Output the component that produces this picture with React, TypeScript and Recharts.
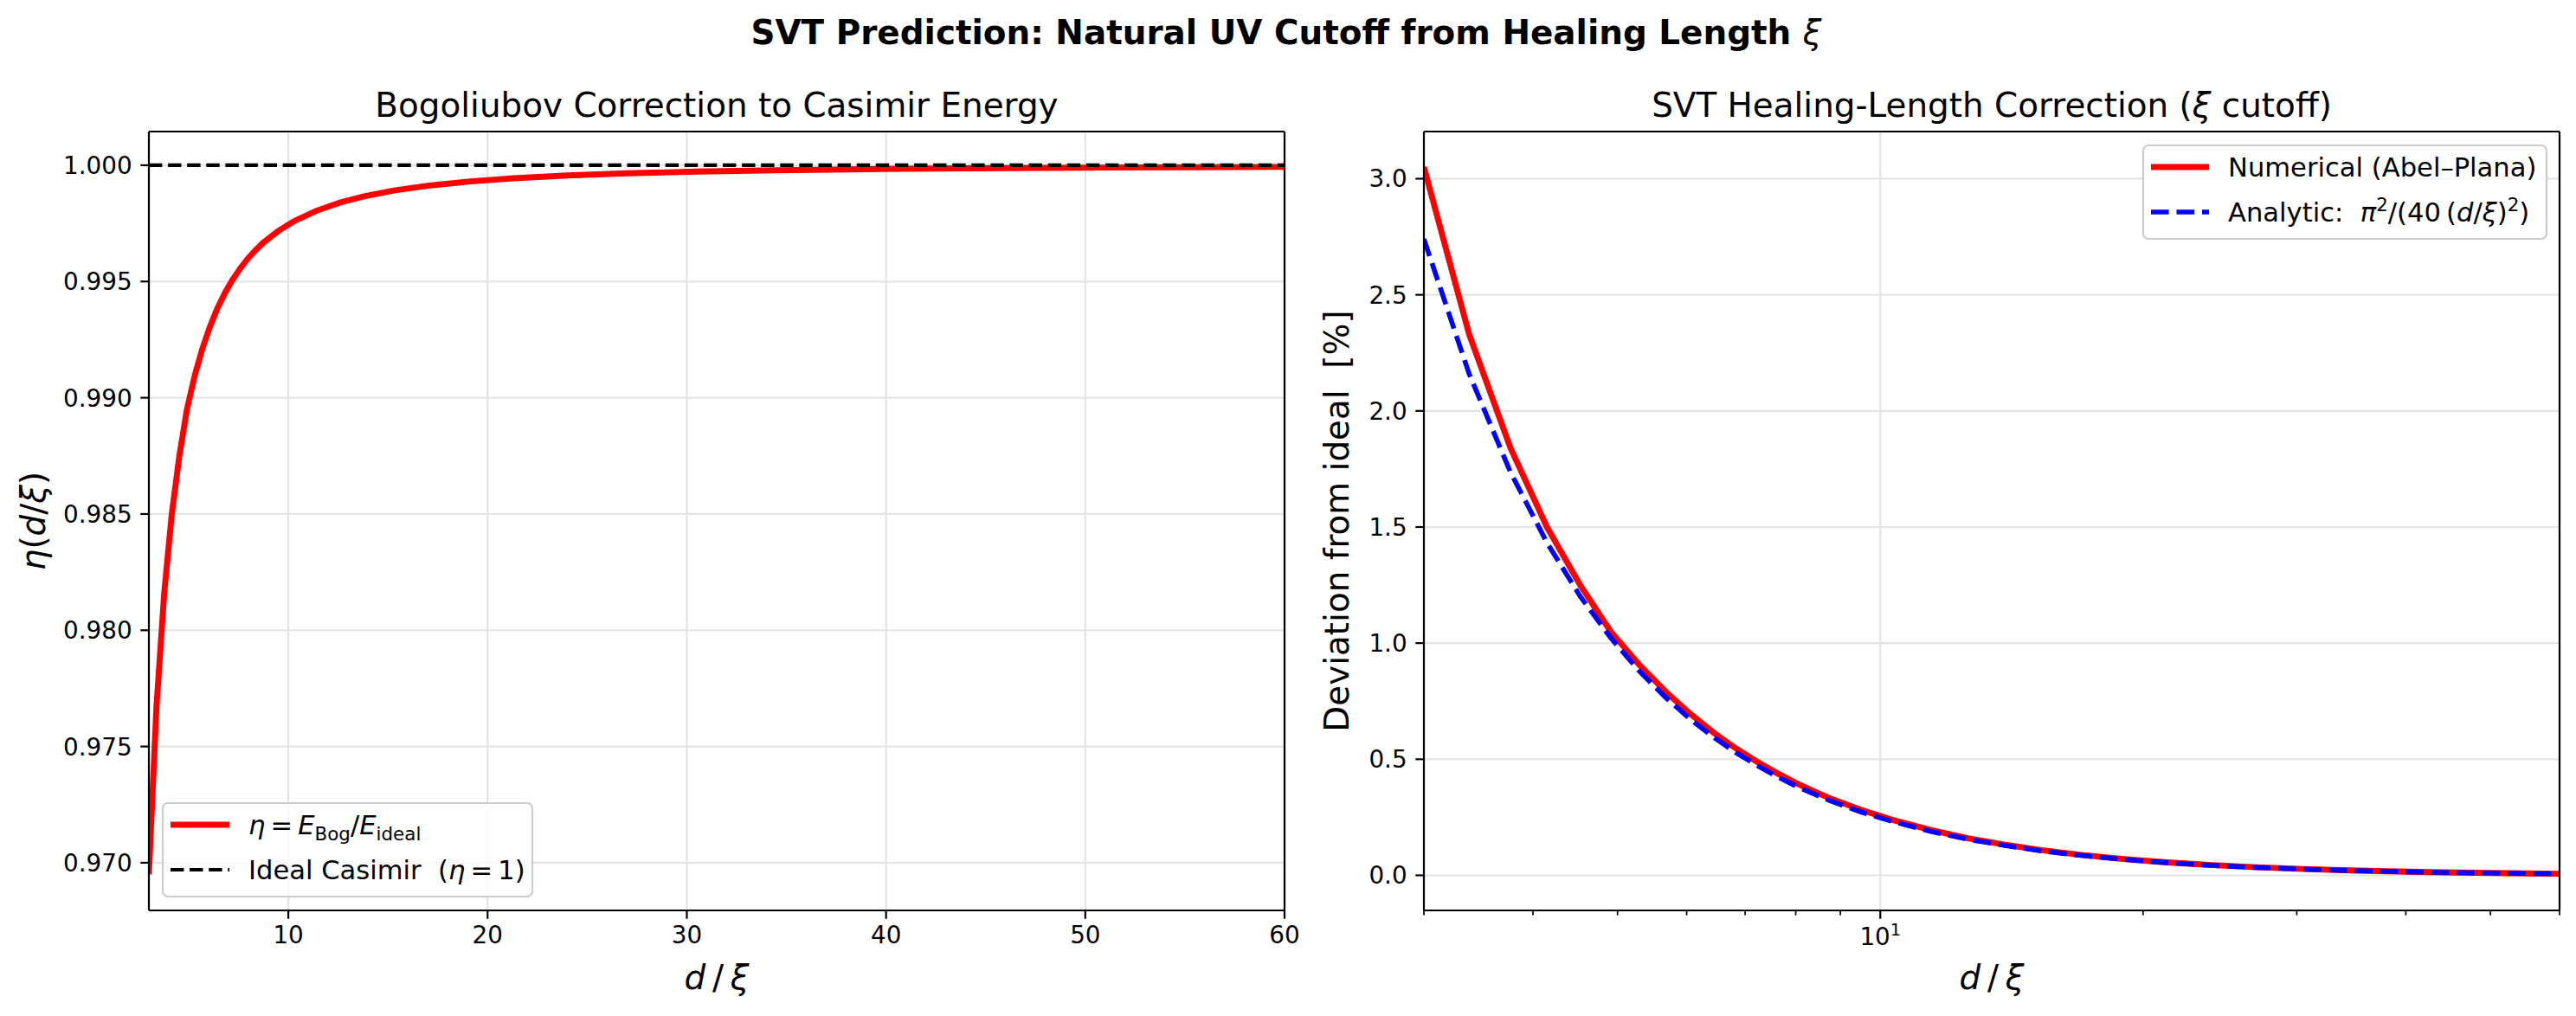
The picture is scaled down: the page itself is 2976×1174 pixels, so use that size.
import React from 'react';
import { LineChart, Line, XAxis, YAxis, CartesianGrid, ReferenceLine } from 'recharts';

// ---------- data ----------
const dRatio = [3, 3.38, 3.77, 4.15, 4.53, 4.91, 5.3, 5.68, 6.06, 6.44, 6.83, 7.21, 7.59, 7.97, 8.36, 8.74, 9.5, 10.3, 11.4, 12.6, 13.8, 15.3, 17, 19, 21.3, 24, 27, 30.5, 34.5, 39, 44, 50, 55, 60];
// Numerical (Abel–Plana) deviation from ideal, in %
const devNumerical = [3.05, 2.33, 1.84, 1.5, 1.25, 1.05, 0.905, 0.79, 0.695, 0.615, 0.547, 0.491, 0.443, 0.401, 0.365, 0.333, 0.282, 0.24, 0.196, 0.16, 0.1335, 0.1085, 0.088, 0.0705, 0.056, 0.0441, 0.0348, 0.0273, 0.0213, 0.0167, 0.0131, 0.0102, 0.0085, 0.0071];
// Analytic curve pi^2/(40 (d/xi)^2), in %
const devAnalytic = [2.74, 2.16, 1.736, 1.433, 1.202, 1.023, 0.878, 0.765, 0.672, 0.595, 0.529, 0.475, 0.428, 0.388, 0.353, 0.323, 0.273, 0.233, 0.19, 0.155, 0.13, 0.105, 0.0854, 0.0684, 0.0544, 0.0428, 0.0338, 0.0265, 0.0207, 0.0162, 0.0127, 0.0099, 0.0082, 0.0069];
const IDEAL_ETA = 1;

const leftXTicks = [10, 20, 30, 40, 50, 60];
const leftYTicks = [0.97, 0.975, 0.98, 0.985, 0.99, 0.995, 1.0];
const rightXTicks = [3, 4, 5, 6, 7, 8, 9, 10, 20, 30, 40, 50, 60];
const rightXMajor = [10];
const rightYTicks = [0, 0.5, 1, 1.5, 2, 2.5, 3];

const X_DOMAIN: [number, number] = [3, 60];
const LEFT_Y_DOMAIN: [number, number] = [0.96795, 1.00145];
const RIGHT_Y_DOMAIN: [number, number] = [-0.151, 3.203];

const leftData = dRatio.map((d, i) => ({ d, eta: 1 - devNumerical[i] / 100, ideal: IDEAL_ETA }));
const rightData = dRatio.map((d, i) => ({ d, num: devNumerical[i], ana: devAnalytic[i] }));

// ---------- styles ----------
const FONT = '"DejaVu Sans", "Liberation Sans", sans-serif';
const TICK_FS = 27.8;
const LABEL_FS = 38.9;
const LEGEND_FS = 30.6;
const SPINE = 2.2;
const GRID = '#e4e4e4';
const MAJOR_LEN = 9.7;
const MINOR_LEN = 5.6;
const PAD = 9.7;

const XTickLin = (p: any) => {
  const { x, y, payload } = p;
  return (
    <g>
      <line x1={x} x2={x} y1={y} y2={y + MAJOR_LEN} stroke="#000" strokeWidth={SPINE} />
      <text x={x} y={y + 38} textAnchor="middle" fontSize={TICK_FS} fontFamily={FONT} fill="#000">
        {String(payload.value)}
      </text>
    </g>
  );
};

const XTickLog = (p: any) => {
  const { x, y, payload } = p;
  const major = rightXMajor.includes(payload.value);
  return (
    <g>
      <line x1={x} x2={x} y1={y} y2={y + (major ? MAJOR_LEN : MINOR_LEN)} stroke="#000" strokeWidth={major ? SPINE : 1.7} />
      {major && (
        <text x={x} y={y + 40} textAnchor="middle" fontSize={TICK_FS} fontFamily={FONT} fill="#000">
          10<tspan fontSize={19.5} dy={-11}>1</tspan>
        </text>
      )}
    </g>
  );
};

const makeYTick = (digits: number) => (p: any) => {
  const { x, y, payload } = p;
  return (
    <g>
      <line x1={x - MAJOR_LEN} x2={x} y1={y} y2={y} stroke="#000" strokeWidth={SPINE} />
      <text x={x - MAJOR_LEN - PAD} y={y + 10} textAnchor="end" fontSize={TICK_FS} fontFamily={FONT} fill="#000">
        {Number(payload.value).toFixed(digits)}
      </text>
    </g>
  );
};

const axisLine = { stroke: '#000', strokeWidth: SPINE };

const LeftChart = () => (
  <LineChart width={1540} height={1174} data={leftData} margin={{ top: 152, right: 56, bottom: 62, left: 92 }}>
    <CartesianGrid stroke={GRID} strokeWidth={SPINE} />
    <XAxis dataKey="d" type="number" domain={X_DOMAIN} ticks={leftXTicks} interval={0} allowDataOverflow
      height={60} tickSize={0} tickMargin={0} tickLine={false} axisLine={axisLine} tick={(p: any) => <XTickLin {...p} />} />
    <YAxis type="number" domain={LEFT_Y_DOMAIN} ticks={leftYTicks} interval={0} allowDataOverflow width={80}
      tickSize={0} tickMargin={0} tickLine={false} axisLine={axisLine} tick={makeYTick(3)} />
    <Line dataKey="eta" type="linear" stroke="#ff0000" strokeWidth={6.9} dot={false} activeDot={false} isAnimationActive={false} />
    <Line dataKey="ideal" type="linear" stroke="#000000" strokeWidth={4.2} strokeDasharray="15.4 6.7" dot={false} activeDot={false} isAnimationActive={false} />
    <ReferenceLine y={LEFT_Y_DOMAIN[1]} stroke="#000" strokeWidth={SPINE} />
    <ReferenceLine x={X_DOMAIN[1]} stroke="#000" strokeWidth={SPINE} />
  </LineChart>
);

const RightChart = () => (
  <LineChart width={1476} height={1174} data={rightData} margin={{ top: 152, right: 19, bottom: 62, left: 65 }}>
    <CartesianGrid stroke={GRID} strokeWidth={SPINE} vertical={false} />
    <ReferenceLine x={10} stroke={GRID} strokeWidth={SPINE} />
    <XAxis dataKey="d" type="number" scale="log" domain={X_DOMAIN} ticks={rightXTicks} interval={0} allowDataOverflow
      height={60} tickSize={0} tickMargin={0} tickLine={false} axisLine={axisLine} tick={(p: any) => <XTickLog {...p} />} />
    <YAxis type="number" domain={RIGHT_Y_DOMAIN} ticks={rightYTicks} interval={0} allowDataOverflow width={80}
      tickSize={0} tickMargin={0} tickLine={false} axisLine={axisLine} tick={makeYTick(1)} />
    <Line dataKey="num" type="linear" stroke="#ff0000" strokeWidth={6.9} dot={false} activeDot={false} isAnimationActive={false} />
    <Line dataKey="ana" type="linear" stroke="#0000ff" strokeWidth={5.6} strokeDasharray="20.6 8.9" dot={false} activeDot={false} isAnimationActive={false} />
    <ReferenceLine y={RIGHT_Y_DOMAIN[1]} stroke="#000" strokeWidth={SPINE} />
    <ReferenceLine x={X_DOMAIN[1]} stroke="#000" strokeWidth={SPINE} />
  </LineChart>
);

const it = { fontStyle: 'italic' as const };

const Overlay = () => (
  <svg width={2976} height={1174} style={{ position: 'absolute', left: 0, top: 0, pointerEvents: 'none' }} fontFamily={FONT}>
    {/* suptitle */}
    <text x={1486} y={51} textAnchor="middle" fontSize={38.9} fontWeight="bold" fill="#000">
      SVT Prediction: Natural UV Cutoff from Healing Length <tspan style={it} fontWeight="normal">ξ</tspan>
    </text>
    {/* subplot titles */}
    <text x={828} y={135} textAnchor="middle" fontSize={LABEL_FS} fill="#000">Bogoliubov Correction to Casimir Energy</text>
    <text x={2301} y={135} textAnchor="middle" fontSize={LABEL_FS} fill="#000">
      SVT Healing-Length Correction (<tspan style={it}>ξ</tspan> cutoff)
    </text>
    {/* x labels */}
    <text x={828} y={1143} textAnchor="middle" fontSize={LABEL_FS} fill="#000">
      <tspan style={it}>d</tspan>{'\u2009/\u2009'}<tspan style={it}>ξ</tspan>
    </text>
    <text x={2301} y={1143} textAnchor="middle" fontSize={LABEL_FS} fill="#000">
      <tspan style={it}>d</tspan>{'\u2009/\u2009'}<tspan style={it}>ξ</tspan>
    </text>
    {/* y labels */}
    <text x={52} y={602} textAnchor="middle" fontSize={LABEL_FS} fill="#000" transform="rotate(-90, 52, 602)">
      <tspan style={it}>η</tspan>(<tspan style={it}>d</tspan>/<tspan style={it}>ξ</tspan>)
    </text>
    <text x={1558} y={602} textAnchor="middle" fontSize={LABEL_FS} fill="#000" transform="rotate(-90, 1558, 602)">
      {'Deviation from ideal\u00a0\u00a0[%]'}
    </text>

    {/* left legend */}
    <rect x={188} y={928} width={427} height={108} rx={6} fill="#ffffff" fillOpacity={0.8} stroke="#cccccc" strokeWidth={2.2} />
    <line x1={197} x2={265} y1={953} y2={953} stroke="#ff0000" strokeWidth={6.9} />
    <text x={287} y={964} fontSize={LEGEND_FS} fill="#000">
      <tspan style={it}>η</tspan>{'\u2009=\u2009'}<tspan style={it}>E</tspan>
      <tspan fontSize={21.4} dy={7}>Bog</tspan>
      <tspan dy={-7}>/</tspan><tspan style={it}>E</tspan>
      <tspan fontSize={21.4} dy={7}>ideal</tspan>
    </text>
    <line x1={197} x2={265} y1={1005} y2={1005} stroke="#000000" strokeWidth={4.2} strokeDasharray="15.4 6.7" />
    <text x={287} y={1016} fontSize={LEGEND_FS} fill="#000">
      {'Ideal Casimir\u00a0\u00a0('}<tspan style={it}>η</tspan>{'\u2009=\u20091)'}
    </text>

    {/* right legend */}
    <rect x={2476} y={168} width={466} height={108} rx={6} fill="#ffffff" fillOpacity={0.8} stroke="#cccccc" strokeWidth={2.2} />
    <line x1={2485} x2={2552} y1={193} y2={193} stroke="#ff0000" strokeWidth={6.9} />
    <text x={2574} y={204} fontSize={LEGEND_FS} fill="#000">Numerical (Abel–Plana)</text>
    <line x1={2485} x2={2552} y1={245} y2={245} stroke="#0000ff" strokeWidth={5.6} strokeDasharray="20.6 8.9" />
    <text x={2574} y={256} fontSize={LEGEND_FS} fill="#000">
      {'Analytic:\u00a0\u00a0'}<tspan style={it}>π</tspan>
      <tspan fontSize={21.4} dy={-12}>2</tspan>
      <tspan dy={12}>{'/(40\u2009('}</tspan><tspan style={it}>d</tspan>/<tspan style={it}>ξ</tspan>)
      <tspan fontSize={21.4} dy={-12}>2</tspan>
      <tspan dy={12}>)</tspan>
    </text>
  </svg>
);

export default function App() {
  return (
    <div style={{ position: 'absolute', left: 0, top: 0, width: 2976, height: 1174, background: '#ffffff', fontFamily: FONT }}>
      <div style={{ position: 'absolute', left: 0, top: 0 }}>
        <LeftChart />
      </div>
      <div style={{ position: 'absolute', left: 1500, top: 0 }}>
        <RightChart />
      </div>
      <Overlay />
    </div>
  );
}
